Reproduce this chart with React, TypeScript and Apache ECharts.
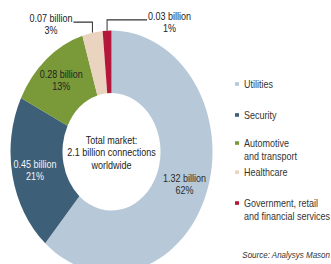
import React, { useEffect, useRef } from 'react';
import * as echarts from 'echarts';

const categories = [
  'Utilities',
  'Security',
  'Automotive\nand transport',
  'Healthcare',
  'Government, retail\nand financial services',
];
const valuesBillion = [1.32, 0.45, 0.28, 0.07, 0.03];
const sharePercent = [62, 21, 13, 3, 1];
const colors = ['#b7c9d8', '#3e5f78', '#7a9a3a', '#ead3bf', '#b5173a'];
const labelColors = ['#2b2b2b', '#f2f4f7', '#1f1f1f', '#222222', '#222222'];
const centerText = ['Total market:', '2.1 billion connections', 'worldwide'];
const sourceText = 'Source: Analysys Mason';

const FONT = '"Liberation Sans", Arial, Helvetica, sans-serif';
const SCALE_Y = 1.2;
const legendTops = [64.5, 90.3, 113.7, 138, 163.7];

export default function App() {
  const ref = useRef<HTMLDivElement>(null);
  useEffect(() => {
    if (!ref.current) return;
    const chart = echarts.init(ref.current, undefined, { renderer: 'svg' });
    const outsideIdx = [3, 4];
    const data = categories.map((name, i) => {
      const item: any = {
        name,
        value: valuesBillion[i],
        itemStyle: { color: colors[i] },
        label: { color: labelColors[i] },
      };
      if (outsideIdx.includes(i)) {
        item.label = { position: 'outside', color: labelColors[i] };
        item.labelLine = {
          show: true,
          length: 9,
          length2: 19,
          lineStyle: { color: '#333', width: 1 },
        };
      }
      return item;
    });

    const legends = categories.map((name, i) => {
      const twoLine = name.includes('\n');
      return {
        data: [name],
        left: 235,
        top: legendTops[i],
        orient: 'vertical',
        padding: 0,
        selectedMode: false,
        icon: twoLine ? 'path://M0,0L0,0M0,4H4V7H0ZM0,22L0,22' : 'rect',
        itemWidth: 4,
        itemHeight: twoLine ? 22 : 3,
        itemStyle: { borderWidth: 0 },
        textStyle: { fontSize: 9, lineHeight: 11, color: '#333', fontFamily: FONT },
      };
    });

    chart.setOption({
      animation: false,
      backgroundColor: '#ffffff',
      legend: legends,
      series: [
        {
          type: 'pie',
          center: [111.5, 126.5],
          radius: [49, 101],
          startAngle: 90,
          clockwise: true,
          avoidLabelOverlap: false,
          minShowLabelAngle: 0,
          itemStyle: { borderWidth: 0 },
          emphasis: { disabled: true },
          label: {
            show: true,
            position: 'inside',
            fontSize: 9,
            lineHeight: 10,
            fontFamily: FONT,
            formatter: (p: any) => `${valuesBillion[p.dataIndex].toFixed(2)} billion\n${sharePercent[p.dataIndex]}%`,
          },
          labelLine: { show: false },
          labelLayout: (p: any) => {
            if (!outsideIdx.includes(p.dataIndex)) return {};
            const pts = p.labelLinePoints;
            if (!pts) return {};
            const start = pts[0];
            const bend = [start[0], pts[1][1]];
            const dir = p.dataIndex === 3 ? -1 : 1;
            const len = p.dataIndex === 3 ? 19 : 40;
            const end = [bend[0] + dir * len, bend[1]];
            return {
              x: end[0] + dir * (p.labelRect.width / 2 + 1),
              y: end[1] + 2,
              align: 'center',
              verticalAlign: 'middle',
              labelLinePoints: [start, bend, end],
            };
          },
          data,
        },
      ],
      graphic: [
        {
          type: 'text',
          x: 111.5,
          y: 127.2,
          style: {
            text: centerText.join('\n'),
            align: 'center',
            verticalAlign: 'middle',
            fontSize: 9,
            lineHeight: 10.4,
            fill: '#222',
            fontFamily: FONT,
          },
        },
        {
          type: 'text',
          x: 330,
          y: 212.5,
          style: {
            text: sourceText,
            align: 'right',
            verticalAlign: 'middle',
            fontSize: 8,
            fontStyle: 'italic',
            fill: '#333',
            fontFamily: FONT,
          },
        },
      ],
    });
    return () => chart.dispose();
  }, []);

  return (
    <div
      ref={ref}
      style={{
        position: 'absolute',
        left: 0,
        top: 0,
        width: 331,
        height: 264 / SCALE_Y,
        transform: `scaleY(${SCALE_Y})`,
        transformOrigin: '0 0',
        background: '#fff',
      }}
    />
  );
}
